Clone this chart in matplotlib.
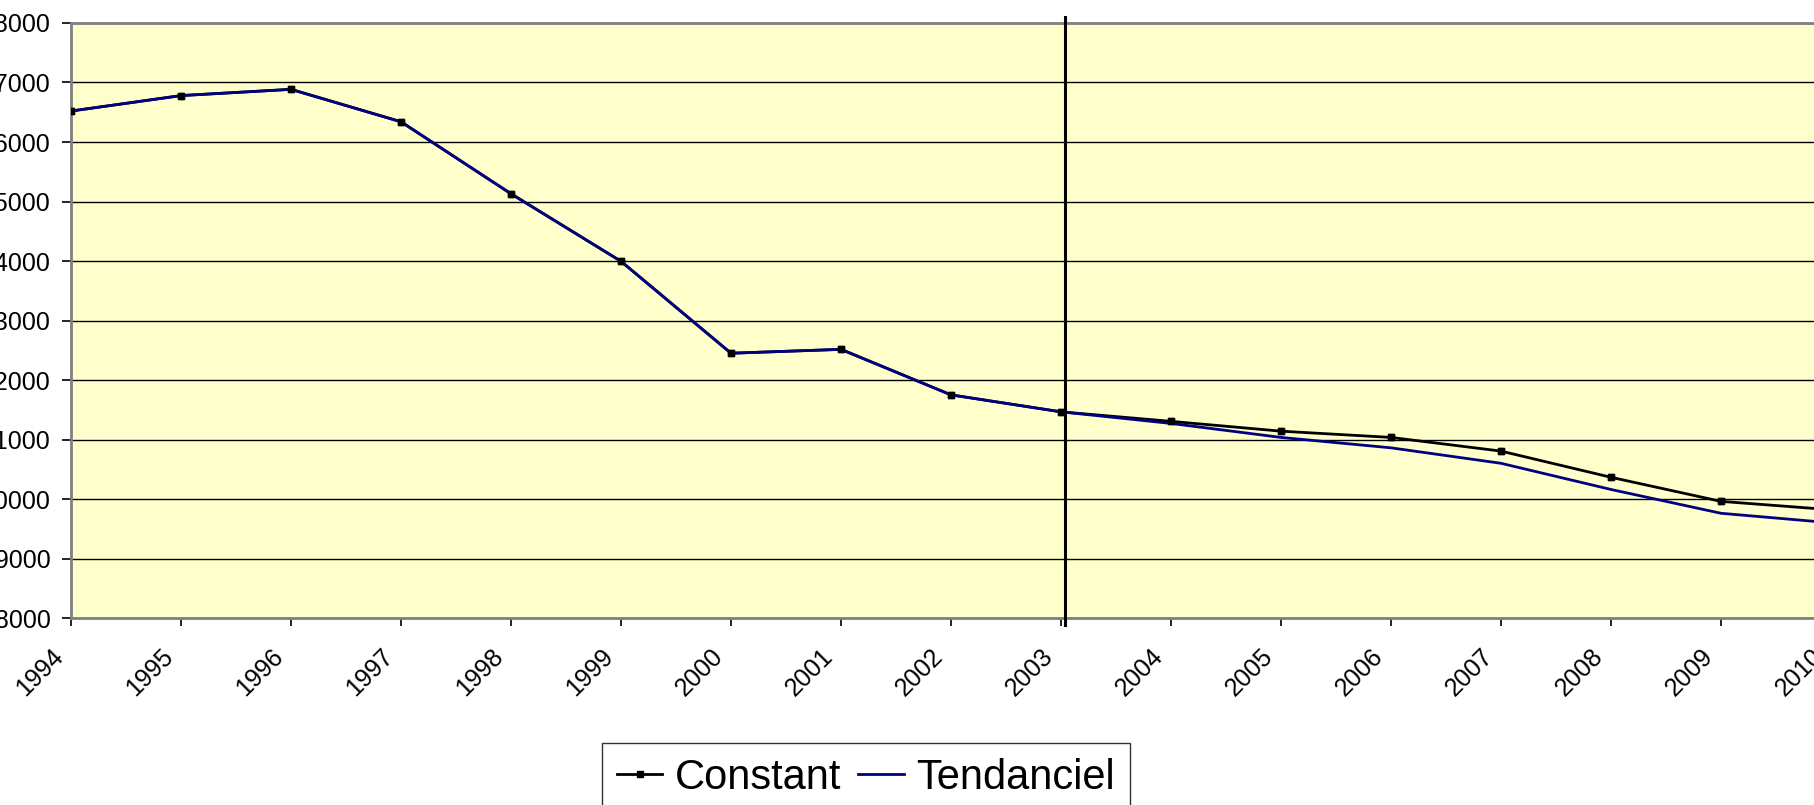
import matplotlib
matplotlib.use("Agg")
import matplotlib.pyplot as plt
from matplotlib.transforms import ScaledTranslation

plt.rcParams['font.family'] = ['Liberation Sans', 'DejaVu Sans']

# Données
annees = list(range(1994, 2011))
constant = [26520, 26780, 26885, 26340, 25130, 23995, 22450, 22515, 21750,
            21465, 21305, 21140, 21035, 20805, 20365, 19960, 19820]
tendanciel = [26520, 26780, 26885, 26340, 25130, 23995, 22450, 22515, 21750,
              21465, 21270, 21035, 20860, 20600, 20160, 19760, 19600]
y_ticks = list(range(18000, 28001, 1000))
annee_rupture = 2003

fig = plt.figure(figsize=(18.14, 8.05), dpi=100)
ax = fig.add_axes([71 / 1814, 1 - 618 / 805, 1760 / 1814, 595 / 805])
ax.set_facecolor('#FFFFCC')

ax.plot(annees, constant, color='black', linewidth=2, marker='s',
        markersize=4.5, label='Constant', zorder=3)
ax.plot(annees, tendanciel, color='#000080', linewidth=2,
        label='Tendanciel', zorder=4)
# les marqueurs du scénario constant restent visibles
ax.plot(annees, constant, linestyle='none', marker='s', markersize=4.5,
        color='black', zorder=5)

# ligne verticale de séparation
ax.plot([annee_rupture + 0.04, annee_rupture + 0.04], [28100, 17880],
        color='black', linewidth=2.2, clip_on=False, zorder=6)

ax.set_xlim(annees[0], annees[-1])
ax.set_ylim(y_ticks[0], y_ticks[-1])
ax.set_xticks(annees)
ax.set_xticklabels([])
# étiquettes des années, inclinées à 45°
decalage = ScaledTranslation(-20 / 100, -26 / 100, fig.dpi_scale_trans)
for a in annees:
    ax.text(a, 0, str(a), rotation=45, ha='right', va='top',
            rotation_mode='anchor', fontsize=18,
            transform=ax.get_xaxis_transform() + decalage, clip_on=False)
ax.set_yticks(y_ticks)
ax.set_yticklabels([str(v) for v in y_ticks], fontsize=18)
ax.tick_params(axis='y', length=6.5, width=1.2, pad=8, color='black')
ax.tick_params(axis='x', length=6, width=1.2, color='black')

ax.yaxis.grid(True, color='black', linewidth=1.0)
ax.set_axisbelow(True)
for s in ['left', 'bottom', 'top']:
    ax.spines[s].set_color('#808080')
    ax.spines[s].set_linewidth(2)
ax.spines['right'].set_visible(False)

leg = fig.legend(handles=ax.get_lines()[:2], loc='upper left',
                 bbox_to_anchor=(602 / 1814, 1 - 743 / 805), ncol=2,
                 fontsize=30, frameon=True, fancybox=False,
                 handlelength=1.1, handletextpad=0.3, columnspacing=0.4,
                 borderpad=0.35, borderaxespad=0)
leg.get_frame().set_edgecolor('black')
leg.get_frame().set_linewidth(1)

fig.savefig('out.png', dpi=100)
